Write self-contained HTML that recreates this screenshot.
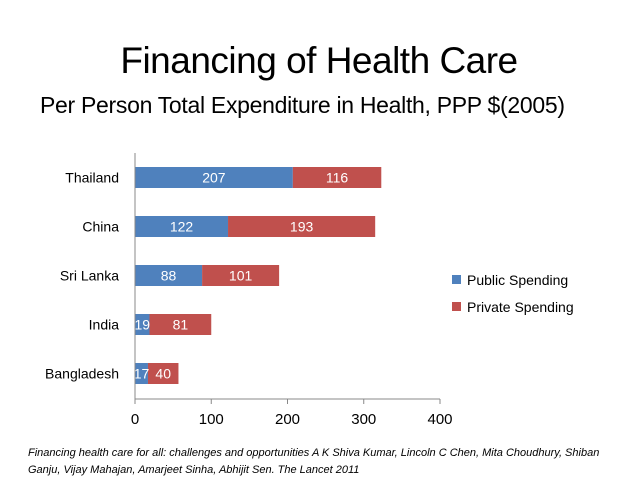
<!DOCTYPE html>
<html><head><meta charset="utf-8"><style>
body{margin:0;background:#fff;font-family:"Liberation Sans",sans-serif;}
#wrap{position:relative;width:638px;height:479px;overflow:hidden;}
.t{position:absolute;white-space:nowrap;color:#000;}
</style></head><body>
<div id="wrap">
<div class="t" style="left:0;width:638px;text-align:center;top:40px;font-size:37px;letter-spacing:-0.5px">Financing of Health Care</div>
<div class="t" style="left:40px;top:92px;font-size:23px;letter-spacing:-0.3px">Per Person Total Expenditure in Health, PPP $(2005)</div>
<svg id="chart" width="638" height="479" style="position:absolute;left:0;top:0"></svg>
<div class="t" style="left:28px;top:445px;font-size:11px;font-style:italic;line-height:17px">Financing health care for all: challenges and opportunities A K Shiva Kumar, Lincoln C Chen, Mita Choudhury, Shiban<br>Ganju, Vijay Mahajan, Amarjeet Sinha, Abhijit Sen. The Lancet 2011</div>
</div>
<script>
const categories=["Thailand","China","Sri Lanka","India","Bangladesh"];
const publicSpending=[207,122,88,19,17];
const privateSpending=[116,193,101,81,40];
const ticks=[0,100,200,300,400];
const NS="http://www.w3.org/2000/svg";
const svg=document.getElementById("chart");
const x0=135,pxPer=0.7625,yTop=153,bandH=49,barH=21,axisY=399;
const xs=v=>x0+v*pxPer;
const yc=i=>yTop+bandH*(i+0.5);
function mk(tag,attrs,txt){const e=document.createElementNS(NS,tag);for(const k in attrs)e.setAttribute(k,attrs[k]);if(txt!==undefined)e.textContent=txt;svg.appendChild(e);return e;}
const FONT='"Liberation Sans",sans-serif';
categories.forEach((c,i)=>{
  const y=yc(i);
  const lab=mk("text",{x:119,y:y+5,"text-anchor":"end","font-size":14,"font-family":FONT,fill:"#000"},c);
  
  
  const b1=mk("rect",{x:xs(0),y:y-barH/2,width:xs(publicSpending[i])-xs(0),height:barH,fill:"#4f81bd"});
  
  
  const b2=mk("rect",{x:xs(publicSpending[i]),y:y-barH/2,width:xs(publicSpending[i]+privateSpending[i])-xs(publicSpending[i]),height:barH,fill:"#c0504d"});
  
  
  const v1=mk("text",{x:(xs(0)+xs(publicSpending[i]))/2,y:y+5,"text-anchor":"middle","font-size":14,"font-family":FONT,fill:"#fff"},publicSpending[i]);
  
  
  const v2=mk("text",{x:(xs(publicSpending[i])+xs(publicSpending[i]+privateSpending[i]))/2,y:y+5,"text-anchor":"middle","font-size":14,"font-family":FONT,fill:"#fff"},privateSpending[i]);
  
  
});
const ya=mk("line",{x1:x0,y1:yTop,x2:x0,y2:axisY,stroke:"#888","stroke-width":1});


const xa=mk("line",{x1:x0,y1:axisY,x2:xs(400),y2:axisY,stroke:"#888","stroke-width":1});


ticks.forEach(t=>{
  const tk=mk("line",{x1:xs(t),y1:axisY,x2:xs(t),y2:axisY+5,stroke:"#888"});
  
  
  const tl=mk("text",{x:xs(t),y:424,"text-anchor":"middle","font-size":15,"font-family":FONT,fill:"#000"},t);
  
  
});
const legend=[["Public Spending","#4f81bd",280],["Private Spending","#c0504d",307]];
legend.forEach(l=>{
  const r=mk("rect",{x:452,y:l[2]-5,width:9,height:9,fill:l[1]});
  
  
  const tx=mk("text",{x:467,y:l[2]+5,"font-size":14,"font-family":FONT,fill:"#000"},l[0]);
  
  
});
</script>
</body></html>
